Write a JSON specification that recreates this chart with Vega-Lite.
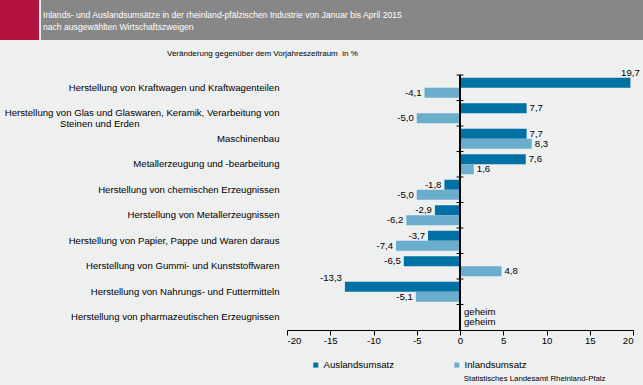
{
  "$schema": "https://vega.github.io/schema/vega-lite/v6.json",
  "background": "#EEEFEF",
  "padding": {"left": 0, "top": 0, "right": 0, "bottom": 3},
  "spacing": 75,
  "bounds": "flush",
  "config": {
    "font": "Liberation Sans",
    "locale": {"number": {"decimal": ",", "thousands": ".", "grouping": [3], "currency": ["", " €"], "minus": "-"}},
    "view": {"stroke": null}
  },
  "vconcat": [
    {
      "spacing": 2,
      "bounds": "flush",
      "hconcat": [
        {
          "width": 39, "height": 40,
          "view": {"fill": "#B5133F", "stroke": null},
          "data": {"values": [{}]},
          "mark": {"type": "text", "text": ""},
          "encoding": {}
        },
        {
          "width": 602, "height": 40,
          "view": {"fill": "#878787", "stroke": null},
          "title": {
            "text": ["Inlands- und Auslandsumsätze in der rheinland-pfälzischen Industrie von Januar bis April 2015", "nach ausgewählten Wirtschaftszweigen"],
            "color": "#FFFFFF", "fontSize": 8.6, "fontWeight": "normal", "anchor": "start", "orient": "top",
            "offset": -32, "dx": 2, "lineHeight": 12
          },
          "data": {"values": [{}]},
          "mark": {"type": "text", "text": ""},
          "encoding": {}
        }
      ]
    },
    {
      "spacing": 0,
      "bounds": "flush",
      "hconcat": [
        {
          "width": 287, "height": 255,
          "data": {"values": [{}]},
          "mark": {"type": "text", "text": ""},
          "encoding": {}
        },
        {
          "width": 346, "height": 255,
          "title": {"text": "Veränderung gegenüber dem Vorjahreszeitraum\u00a0 in %", "anchor": "start", "frame": "group", "dx": -120, "fontSize": 8, "fontWeight": "normal", "color": "#000000", "offset": 10},
          "data": {"values": [
            {"Zweig": "Herstellung von Kraftwagen und Kraftwagenteilen", "Umsatz": "Auslandsumsatz", "Wert": 19.7},
            {"Zweig": "Herstellung von Kraftwagen und Kraftwagenteilen", "Umsatz": "Inlandsumsatz", "Wert": -4.1},
            {"Zweig": "Herstellung von Glas und Glaswaren, Keramik, Verarbeitung von Steinen und Erden", "Umsatz": "Auslandsumsatz", "Wert": 7.7},
            {"Zweig": "Herstellung von Glas und Glaswaren, Keramik, Verarbeitung von Steinen und Erden", "Umsatz": "Inlandsumsatz", "Wert": -5.0},
            {"Zweig": "Maschinenbau", "Umsatz": "Auslandsumsatz", "Wert": 7.7},
            {"Zweig": "Maschinenbau", "Umsatz": "Inlandsumsatz", "Wert": 8.3},
            {"Zweig": "Metallerzeugung und -bearbeitung", "Umsatz": "Auslandsumsatz", "Wert": 7.6},
            {"Zweig": "Metallerzeugung und -bearbeitung", "Umsatz": "Inlandsumsatz", "Wert": 1.6},
            {"Zweig": "Herstellung von chemischen Erzeugnissen", "Umsatz": "Auslandsumsatz", "Wert": -1.8},
            {"Zweig": "Herstellung von chemischen Erzeugnissen", "Umsatz": "Inlandsumsatz", "Wert": -5.0},
            {"Zweig": "Herstellung von Metallerzeugnissen", "Umsatz": "Auslandsumsatz", "Wert": -2.9},
            {"Zweig": "Herstellung von Metallerzeugnissen", "Umsatz": "Inlandsumsatz", "Wert": -6.2},
            {"Zweig": "Herstellung von Papier, Pappe und Waren daraus", "Umsatz": "Auslandsumsatz", "Wert": -3.7},
            {"Zweig": "Herstellung von Papier, Pappe und Waren daraus", "Umsatz": "Inlandsumsatz", "Wert": -7.4},
            {"Zweig": "Herstellung von Gummi- und Kunststoffwaren", "Umsatz": "Auslandsumsatz", "Wert": -6.5},
            {"Zweig": "Herstellung von Gummi- und Kunststoffwaren", "Umsatz": "Inlandsumsatz", "Wert": 4.8},
            {"Zweig": "Herstellung von Nahrungs- und Futtermitteln", "Umsatz": "Auslandsumsatz", "Wert": -13.3},
            {"Zweig": "Herstellung von Nahrungs- und Futtermitteln", "Umsatz": "Inlandsumsatz", "Wert": -5.1},
            {"Zweig": "Herstellung von pharmazeutischen Erzeugnissen", "Umsatz": "Auslandsumsatz", "Wert": null},
            {"Zweig": "Herstellung von pharmazeutischen Erzeugnissen", "Umsatz": "Inlandsumsatz", "Wert": null}
          ]},
          "layer": [
            {
              "mark": {"type": "bar"},
              "encoding": {
                "y": {"field": "Zweig", "type": "nominal", "sort": null, "scale": {"paddingInner": 0, "paddingOuter": 0},
                  "axis": {"title": null, "domain": false, "ticks": false, "labelPadding": 8, "labelFontSize": 9.6, "labelColor": "#000000", "labelLimit": 400, "labelLineHeight": 11,
                    "labelExpr": "datum.value == 'Herstellung von Glas und Glaswaren, Keramik, Verarbeitung von Steinen und Erden' ? ['Herstellung von Glas und Glaswaren, Keramik, Verarbeitung von', 'Steinen und Erden\u2800\u2800\u2800\u2800\u2800\u2800\u2800\u2800\u2800\u2800\u2800\u2800\u2800\u2800\u2800\u2800\u2800\u2800\u2800\u2800'] : datum.label"}},
                "yOffset": {"field": "Umsatz", "type": "nominal", "scale": {"paddingOuter": 0.275, "paddingInner": 0}},
                "x": {"field": "Wert", "type": "quantitative", "scale": {"domain": [-20, 20], "nice": false, "zero": false},
                  "axis": {"values": [-20, -15, -10, -5, 0, 5, 10, 15, 20], "format": "d", "grid": false, "domainColor": "#000000", "tickColor": "#000000", "tickSize": 5, "labelPadding": 0, "labelFontSize": 9.6, "labelColor": "#000000",
                    "title": "Statistisches Landesamt Rheinland-Pfalz", "titleFontSize": 7.8, "titleFontWeight": "normal", "titleColor": "#000000", "titleX": 318, "titleY": 48, "titleAlign": "right", "titleBaseline": "middle"}},
                "color": {"field": "Umsatz", "type": "nominal", "scale": {"domain": ["Auslandsumsatz", "Inlandsumsatz"], "range": ["#0071A4", "#6AADCD"]},
                  "legend": {"title": null, "orient": "none", "legendX": 311, "legendY": 360, "direction": "horizontal", "symbolType": "square", "symbolSize": 25, "symbolStrokeWidth": 0, "labelFontSize": 9.6, "labelColor": "#000000", "labelOffset": 3, "columnPadding": 58}}
              }
            },
            {
              "mark": {"type": "rule", "color": "#000000", "strokeWidth": 1},
              "encoding": {"x": {"datum": 0}}
            },
            {
              "transform": [{"filter": "datum.Umsatz == 'Auslandsumsatz'"}],
              "mark": {"type": "rule", "color": "#000000", "strokeWidth": 1},
              "encoding": {
                "y": {"field": "Zweig", "type": "nominal", "sort": null, "bandPosition": 0},
                "x": {"datum": -0.4},
                "x2": {"datum": 0.4}
              }
            },
            {
              "transform": [{"filter": "isValid(datum.Wert) && datum.Wert > 0 && datum.Wert < 15"}],
              "mark": {"type": "text", "align": "left", "baseline": "middle", "dx": 3, "fontSize": 9.6, "color": "#000000"},
              "encoding": {
                "y": {"field": "Zweig", "type": "nominal", "sort": null},
                "yOffset": {"field": "Umsatz", "type": "nominal"},
                "x": {"field": "Wert", "type": "quantitative"},
                "text": {"field": "Wert", "type": "quantitative", "format": ".1f"}
              }
            },
            {
              "transform": [{"filter": "isValid(datum.Wert) && datum.Wert < 0 && datum.Wert > -10"}],
              "mark": {"type": "text", "align": "right", "baseline": "middle", "dx": -3, "fontSize": 9.6, "color": "#000000"},
              "encoding": {
                "y": {"field": "Zweig", "type": "nominal", "sort": null},
                "yOffset": {"field": "Umsatz", "type": "nominal"},
                "x": {"field": "Wert", "type": "quantitative"},
                "text": {"field": "Wert", "type": "quantitative", "format": ".1f"}
              }
            },
            {
              "transform": [{"filter": "isValid(datum.Wert) && datum.Wert >= 15"}],
              "mark": {"type": "text", "align": "center", "baseline": "middle", "dy": -10, "fontSize": 9.6, "color": "#000000"},
              "encoding": {
                "y": {"field": "Zweig", "type": "nominal", "sort": null},
                "yOffset": {"field": "Umsatz", "type": "nominal"},
                "x": {"field": "Wert", "type": "quantitative"},
                "text": {"field": "Wert", "type": "quantitative", "format": ".1f"}
              }
            },
            {
              "transform": [{"filter": "isValid(datum.Wert) && datum.Wert <= -10"}],
              "mark": {"type": "text", "align": "right", "baseline": "middle", "dx": -3, "dy": -9, "fontSize": 9.6, "color": "#000000"},
              "encoding": {
                "y": {"field": "Zweig", "type": "nominal", "sort": null},
                "yOffset": {"field": "Umsatz", "type": "nominal"},
                "x": {"field": "Wert", "type": "quantitative"},
                "text": {"field": "Wert", "type": "quantitative", "format": ".1f"}
              }
            },
            {
              "transform": [{"filter": "!isValid(datum.Wert)"}],
              "mark": {"type": "text", "align": "left", "baseline": "middle", "dx": 4, "fontSize": 9.6, "color": "#000000", "text": "geheim"},
              "encoding": {
                "y": {"field": "Zweig", "type": "nominal", "sort": null},
                "yOffset": {"field": "Umsatz", "type": "nominal"},
                "x": {"datum": 0}
              }
            }
          ]
        }
      ]
    }
  ]
}
